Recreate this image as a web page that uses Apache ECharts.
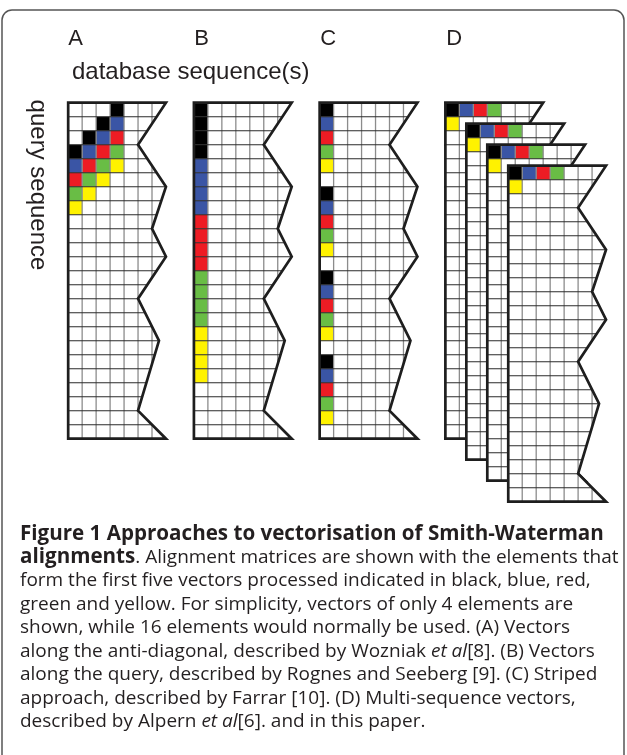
<!DOCTYPE html>
<html><head><meta charset="utf-8">
<script src="https://cdn.jsdelivr.net/npm/echarts@6/dist/echarts.min.js"></script>
<style>html,body{margin:0;padding:0;background:#fff}#c{width:627px;height:755px}</style>
</head><body><div id="c"></div>
<script>
// ---------- data ----------
const panelLabels = ['A', 'B', 'C', 'D'];
const topLabel = 'database sequence(s)';
const sideLabel = 'query sequence';
const queryLength = 24;            // rows in each alignment matrix
const shownColumns = 7;            // database columns shown before the cut
// cut (zig-zag) edge of each matrix: column and row of each vertex
const cutCols = [7, 5, 7, 6, 7, 5, 6.5, 5, 7];
const cutRows = [0, 3, 6, 9, 11, 14, 17, 22, 24];
const vectorNames = ['black', 'blue', 'red', 'green', 'yellow'];
// highlighted cells: [column, row, vector index]
const cellsA = [[3,0,0],[2,1,0],[1,2,0],[0,3,0],
                [3,1,1],[2,2,1],[1,3,1],[0,4,1],
                [3,2,2],[2,3,2],[1,4,2],[0,5,2],
                [3,3,3],[2,4,3],[1,5,3],[0,6,3],
                [3,4,4],[2,5,4],[1,6,4],[0,7,4]];
const cellsB = [[0,0,0],[0,1,0],[0,2,0],[0,3,0],
                [0,4,1],[0,5,1],[0,6,1],[0,7,1],
                [0,8,2],[0,9,2],[0,10,2],[0,11,2],
                [0,12,3],[0,13,3],[0,14,3],[0,15,3],
                [0,16,4],[0,17,4],[0,18,4],[0,19,4]];
const cellsC = [[0,0,0],[0,6,0],[0,12,0],[0,18,0],
                [0,1,1],[0,7,1],[0,13,1],[0,19,1],
                [0,2,2],[0,8,2],[0,14,2],[0,20,2],
                [0,3,3],[0,9,3],[0,15,3],[0,21,3],
                [0,4,4],[0,10,4],[0,16,4],[0,22,4]];
const cellsD = [[0,0,0],[1,0,1],[2,0,2],[3,0,3],[0,1,4]];
const dSequences = 4;              // database sequences stacked in panel D
const captionLines = [
  [['b', 'Figure 1 Approaches to vectorisation of Smith-Waterman']],
  [['b', 'alignments'], ['n', '. Alignment matrices are shown with the elements that']],
  [['n', 'form the first five vectors processed indicated in black, blue, red,']],
  [['n', 'green and yellow. For simplicity, vectors of only 4 elements are']],
  [['n', 'shown, while 16 elements would normally be used. (A) Vectors']],
  [['n', 'along the anti-diagonal, described by Wozniak '], ['i', 'et al'], ['n', '[8]. (B) Vectors']],
  [['n', 'along the query, described by Rognes and Seeberg [9]. (C) Striped']],
  [['n', 'approach, described by Farrar [10]. (D) Multi-sequence vectors,']],
  [['n', 'described by Alpern '], ['i', 'et al'], ['n', '[6]. and in this paper.']]
];

// ---------- layout / style ----------
const colorOf = {black:'#000000', blue:'#3a55a5', red:'#ed1c24', green:'#69bd45', yellow:'#fff200'};
const panelCells = [cellsA, cellsB, cellsC, cellsD];
const PANEL_STEP = 9, D_STEP = 1.5;
const matrices = [];
for (let p = 0; p < 3; p++) matrices.push([p * PANEL_STEP, 0, p]);
for (let k = 0; k < dSequences; k++) matrices.push([3 * PANEL_STEP + k * D_STEP, k * D_STEP, 3]);

function renderItem(params, api) {
  const x0 = api.value(0), y0 = api.value(1), pi = api.value(2);
  const P = (c, r) => api.coord([x0 + c, y0 + r]);
  const outline = [P(0, 0)];
  for (let i = 0; i < cutCols.length; i++) outline.push(P(cutCols[i], cutRows[i]));
  outline.push(P(0, queryLength));
  const inner = [];
  panelCells[pi].forEach(([c, r, v]) => {
    const a = P(c, r), b = P(c + 1, r + 1);
    inner.push({type:'rect', shape:{x:a[0], y:a[1], width:b[0]-a[0], height:b[1]-a[1]},
      style:{fill: colorOf[vectorNames[v]]}});
  });
  for (let c = 1; c < shownColumns; c++) {
    const a = P(c, 0), b = P(c, queryLength);
    inner.push({type:'line', shape:{x1:a[0], y1:a[1], x2:b[0], y2:b[1]},
      style:{stroke:'#8c8c8c', lineWidth:1.3}});
  }
  for (let r = 1; r < queryLength; r++) {
    const a = P(0, r), b = P(shownColumns + 1, r);
    inner.push({type:'line', shape:{x1:a[0], y1:a[1], x2:b[0], y2:b[1]},
      style:{stroke:'#2b2b2b', lineWidth:1.1}});
  }
  return {type:'group', children:[
    {type:'polygon', shape:{points:outline}, style:{fill:'#ffffff'}},
    {type:'group', clipPath:{type:'polygon', shape:{points:outline}}, children:inner},
    {type:'polygon', shape:{points:outline}, style:{fill:'none', stroke:'#1e1e1e', lineWidth:2.7, lineJoin:'miter'}}
  ]};
}

const chart = echarts.init(document.getElementById('c'), null, {renderer:'canvas'});
const CELL = 14, ORIGIN_X = 68.3, ORIGIN_Y = 102.7;
const XMIN = -4, XMAX = 40, YMIN = -4, YMAX = 30;

const graphics = [];
graphics.push({type:'rect', shape:{x:2, y:10, width:622, height:800, r:[10,10,0,0]},
  style:{fill:'none', stroke:'#555', lineWidth:1.5}, silent:true});
panelLabels.forEach((t, i) => {
  const xc = ORIGIN_X + (i * PANEL_STEP) * CELL;
  graphics.push({type:'text', x:xc, y:39, style:{text:t, font:'22px "Liberation Sans"', fill:'#231f20', align:'left', verticalAlign:'middle'}});
});
graphics.push({type:'text', x:72, y:72, style:{text:topLabel, font:'24px "Liberation Sans"', fill:'#231f20', align:'left', verticalAlign:'middle'}});
graphics.push({type:'text', x:38, y:185, rotation:-Math.PI/2, style:{text:sideLabel, font:'24px "Liberation Sans"', fill:'#231f20', align:'center', verticalAlign:'middle'}});
const capFont = '"Open Sans"', capSize = 19;
captionLines.forEach((segs, i) => {
  const text = segs.map(([s, t]) => '{' + s + '|' + t + '}').join('');
  graphics.push({type:'text', x:20, y:534 + i * 23.5, style:{
    text: text, align:'left', verticalAlign:'middle',
    rich:{
      b:{fontFamily:capFont, fontSize:20.6, fontWeight:'bold', fill:'#231f20'},
      n:{fontFamily:capFont, fontSize:capSize, fill:'#231f20'},
      i:{fontFamily:capFont, fontSize:capSize, fontStyle:'italic', fill:'#231f20'}
    }}});
});

chart.setOption({
  animation:false,
  grid:{left: ORIGIN_X + XMIN * CELL, top: ORIGIN_Y + YMIN * CELL,
        width:(XMAX - XMIN) * CELL, height:(YMAX - YMIN) * CELL},
  xAxis:{type:'value', min:XMIN, max:XMAX, show:false},
  yAxis:{type:'value', min:YMIN, max:YMAX, inverse:true, show:false},
  series:[{type:'custom', coordinateSystem:'cartesian2d', renderItem:renderItem,
           data:matrices, silent:true, clip:false}],
  graphic: graphics
});
</script></body></html>
